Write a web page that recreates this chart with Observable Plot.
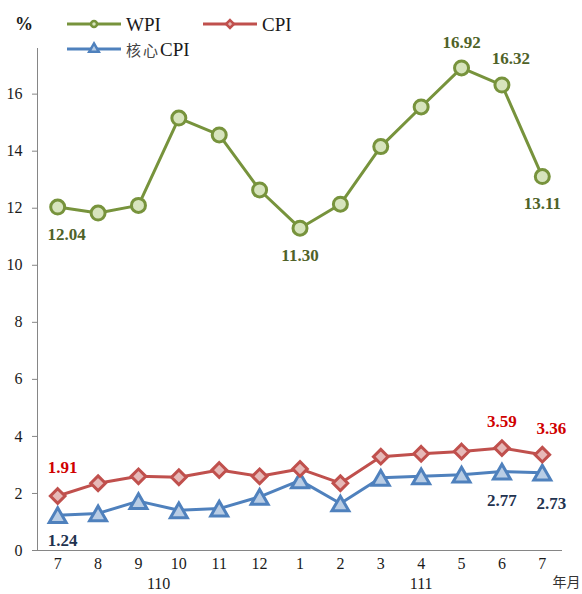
<!DOCTYPE html>
<html><head><meta charset="utf-8">
<script src="https://cdn.jsdelivr.net/npm/d3@7"></script>
<script src="https://cdn.jsdelivr.net/npm/@observablehq/plot@0.6"></script>
<style>
body{margin:0;background:#fff;}
#wrap{position:relative;width:582px;height:594px;overflow:hidden;}
#legend{position:absolute;left:0;top:0;}
</style></head><body>
<div id="wrap"><div id="chart"></div><svg id="legend" width="340" height="64"></svg></div>
<script>
const months = ["7","8","9","10","11","12","1","2","3","4","5","6","7"];
const years = ["110","111"];
const yearStart = [0, 6];
const yearEnd = [5, 12];
const wpi  = [12.04, 11.83, 12.10, 15.16, 14.57, 12.64, 11.30, 12.14, 14.16, 15.55, 16.92, 16.32, 13.11];
const cpi  = [1.91, 2.36, 2.60, 2.57, 2.82, 2.60, 2.86, 2.36, 3.29, 3.39, 3.47, 3.59, 3.36];
const core = [1.24, 1.30, 1.73, 1.41, 1.47, 1.88, 2.46, 1.65, 2.55, 2.60, 2.66, 2.77, 2.73];
const yTicks = [0, 2, 4, 6, 8, 10, 12, 14, 16];
const seriesNames = ["WPI", "CPI", "核心CPI"];

const rows = months.map((m, i) => ({i, m, wpi: wpi[i], cpi: cpi[i], core: core[i]}));
const yearRows = years.map((y, k) => ({label: y, c: (yearStart[k] + yearEnd[k]) / 2}));
const pick = (idx) => rows.filter(d => idx.includes(d.i));

const C = {
  wpi: {line: "#77933C", fill: "#D7E4BD", text: "#4F6228"},
  cpi: {line: "#C0504D", fill: "#E6B9B8", text: "#D00000"},
  core: {line: "#4F81BD", fill: "#B9CDE5", text: "#1F3350"}
};
const lblStyle = (c) => ({fontSize: 17, fontWeight: "bold", fill: c});
const SERIF = "font-family: 'Liberation Serif', 'Times New Roman', serif";
const CJK = "font-family: 'Noto Sans CJK TC', sans-serif";

const chart = Plot.plot({
  width: 582, height: 594,
  marginLeft: 37, marginRight: 20, marginTop: 48, marginBottom: 44,
  style: {fontSize: "16px", color: "#1a1a1a", background: "#fff"},
  x: {type: "linear", domain: [-0.5, 12.5], axis: null},
  y: {domain: [0, 17.6], axis: null},
  marks: [
    Plot.axisX({ticks: d3.range(months.length), tickFormat: i => months[i], tickSize: 0, tickPadding: 7, label: null, fontSize: 16}),
    Plot.axisY({ticks: yTicks, tickSize: 5, tickPadding: 10, stroke: "#868686", label: null, fontSize: 16}),
    Plot.ruleX([-0.5], {stroke: "#868686", strokeWidth: 1}),
    Plot.ruleY([0], {stroke: "#868686", strokeWidth: 1}),
    Plot.text(yearRows, {x: "c", text: "label", frameAnchor: "bottom", dy: 38, fontSize: 16}),
    Plot.text(["年月"], {text: d => d, frameAnchor: "bottom-right", textAnchor: "start", dx: -10, dy: 36, fontSize: 14, className: "cjk", fill: "#333"}),
    // lines
    Plot.line(rows, {x: "i", y: "core", stroke: C.core.line, strokeWidth: 3}),
    Plot.line(rows, {x: "i", y: "cpi", stroke: C.cpi.line, strokeWidth: 3}),
    Plot.line(rows, {x: "i", y: "wpi", stroke: C.wpi.line, strokeWidth: 3}),
    // markers
    Plot.dot(rows, {x: "i", y: "core", symbol: "triangle", r: 6.3, dy: 2.5, fill: C.core.fill, stroke: C.core.line, strokeWidth: 3}),
    Plot.dot(rows, {x: "i", y: "cpi", symbol: "diamond2", r: 6.6, fill: C.cpi.fill, stroke: C.cpi.line, strokeWidth: 3}),
    Plot.dot(rows, {x: "i", y: "wpi", symbol: "circle", r: 7, fill: C.wpi.fill, stroke: C.wpi.line, strokeWidth: 3}),
    // WPI labels
    Plot.text(pick([0]), {x: "i", y: "wpi", text: d => d.wpi.toFixed(2), dx: 9, dy: 27, ...lblStyle(C.wpi.text)}),
    Plot.text(pick([6, 12]), {x: "i", y: "wpi", text: d => d.wpi.toFixed(2), dy: 27, ...lblStyle(C.wpi.text)}),
    Plot.text(pick([10]), {x: "i", y: "wpi", text: d => d.wpi.toFixed(2), dy: -25, ...lblStyle(C.wpi.text)}),
    Plot.text(pick([11]), {x: "i", y: "wpi", text: d => d.wpi.toFixed(2), dx: 9, dy: -26, ...lblStyle(C.wpi.text)}),
    // CPI labels
    Plot.text(pick([0]), {x: "i", y: "cpi", text: d => d.cpi.toFixed(2), dx: 5, dy: -28, ...lblStyle(C.cpi.text)}),
    Plot.text(pick([11]), {x: "i", y: "cpi", text: d => d.cpi.toFixed(2), dy: -27, ...lblStyle(C.cpi.text)}),
    Plot.text(pick([12]), {x: "i", y: "cpi", text: d => d.cpi.toFixed(2), dx: 9, dy: -26, ...lblStyle(C.cpi.text)}),
    // core labels
    Plot.text(pick([0]), {x: "i", y: "core", text: d => d.core.toFixed(2), dx: 5, dy: 25, ...lblStyle(C.core.text)}),
    Plot.text(pick([11]), {x: "i", y: "core", text: d => d.core.toFixed(2), dy: 29, ...lblStyle(C.core.text)}),
    Plot.text(pick([12]), {x: "i", y: "core", text: d => d.core.toFixed(2), dx: 9, dy: 31, ...lblStyle(C.core.text)})
  ]
});
document.getElementById("chart").appendChild(chart);
chart.querySelectorAll("text").forEach(t => {
  const isCjk = /[\u4e00-\u9fff]/.test(t.textContent);
  t.setAttribute("style", isCjk ? CJK : SERIF);
});

// legend
const lg = d3.select("#legend");
lg.append("text").attr("x", 24).attr("y", 24).attr("text-anchor", "middle").attr("dominant-baseline", "central")
  .attr("style", SERIF).attr("font-size", 18).attr("font-weight", "bold").attr("fill", "#1a1a1a").text("%");
const items = [
  {name: seriesNames[0], c: C.wpi, x: 67, y: 24, sym: d3.symbolCircle, size: 28},
  {name: seriesNames[1], c: C.cpi, x: 203, y: 24, sym: d3.symbolDiamond2, size: 40},
  {name: seriesNames[2], c: C.core, x: 67, y: 49, sym: d3.symbolTriangle, size: 40}
];
items.forEach(it => {
  lg.append("line").attr("x1", it.x).attr("x2", it.x + 54).attr("y1", it.y).attr("y2", it.y)
    .attr("stroke", it.c.line).attr("stroke-width", 3);
  lg.append("path").attr("d", d3.symbol(it.sym, it.size)()).attr("transform", `translate(${it.x + 27},${it.y})`)
    .attr("fill", it.c.fill).attr("stroke", it.c.line).attr("stroke-width", 2.5);
  const t = lg.append("text").attr("x", it.x + 59).attr("y", it.y).attr("dominant-baseline", "central")
    .attr("style", SERIF).attr("font-size", 19).attr("fill", "#1a1a1a");
  if (it.name === "核心CPI") {
    t.append("tspan").attr("style", CJK).attr("font-size", 15).attr("fill", "#444").attr("letter-spacing", 2).text("核心");
    t.append("tspan").attr("style", SERIF).text("CPI");
  } else {
    t.text(it.name);
  }
});
</script>
</body></html>
